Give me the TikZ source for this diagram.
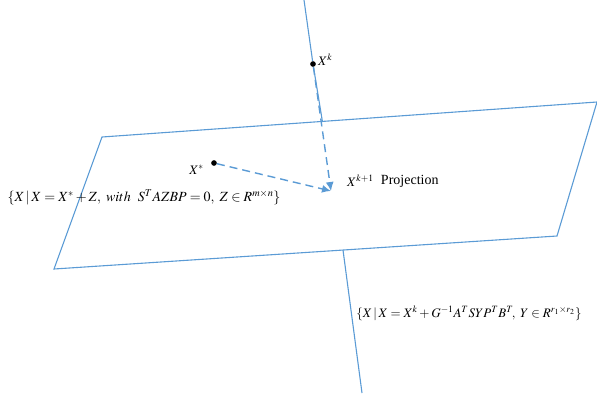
\documentclass[tikz,border=0pt]{standalone}
\usepackage{mathptmx}
\usepackage[no-math]{fontspec}
\setmainfont{Liberation Serif}
\usetikzlibrary{arrows.meta,calc,positioning}
\definecolor{planeblue}{RGB}{91,155,213}
\begin{document}
\begin{tikzpicture}[x=1pt,y=-1pt,>={Latex[length=9pt,width=8pt]},
  edge/.style={planeblue,line width=1.1pt},
  proj/.style={planeblue,line width=1.4pt,dashed,dash pattern=on 8pt off 5pt,->},
  lbl/.style={font=\fontsize{13}{15}\selectfont,inner sep=1pt}]
  \useasboundingbox (0,0) rectangle (597,400);
  % the plane
  \coordinate (A) at (102,137); \coordinate (B) at (597,102);
  \coordinate (C) at (557,236); \coordinate (D) at (54,269);
  \draw[edge] (A) -- (B) -- (C) -- (D) -- cycle;
  % points
  \coordinate (top) at (304,0); \coordinate (hit) at (322.5,122);
  \coordinate (low) at (343,250); \coordinate (bot) at (362,393);
  \node[circle,fill,inner sep=2pt] (Xk) at (313,64) {};
  \node[circle,fill,inner sep=2pt] (Xs) at (214,163) {};
  \coordinate (Xk1) at (331,191);
  \draw[edge] (top) -- (Xk) -- (hit);
  \draw[edge] (low) -- (bot);
  \draw[proj] (Xk) -- (Xk1);
  \draw[proj] (Xs) -- (Xk1);
  % labels
  \node[lbl,anchor=west] at (317,60) {$X^k$};
  \node[lbl,anchor=east] at (205,170) {$X^*$};
  \node[lbl,anchor=west] (lk1) at (346,181) {$X^{k+1}$};
  \node[lbl,font=\fontsize{14}{16}\selectfont,anchor=west,right=5pt of lk1] {Projection};
  \node[lbl,font=\fontsize{14}{16}\selectfont] at (144,197) {$\{X \,|\, X=X^*+Z,\ with\ \ S^TAZBP=0,\ Z\in R^{m\times n}\}$};
  \node[lbl] at (469,313) {$\{X \,|\, X=X^k+G^{-1}A^TSYP^TB^T\!,\ Y\in R^{r_1\times r_2}\}$};
\end{tikzpicture}
\end{document}
